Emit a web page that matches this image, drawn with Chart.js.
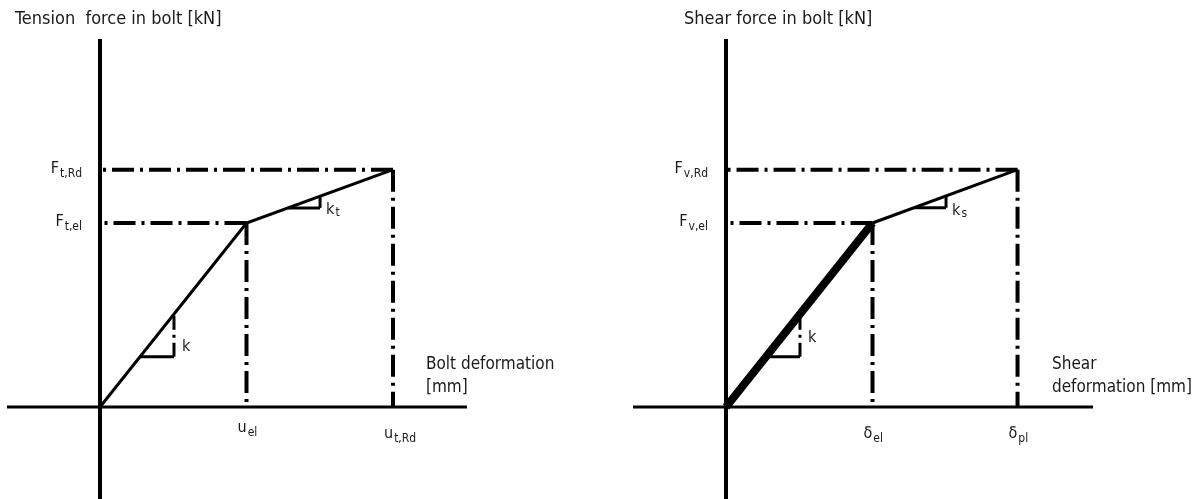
<!DOCTYPE html>
<html>
<head>
<meta charset="utf-8">
<script src="https://cdn.jsdelivr.net/npm/chart.js@4/dist/chart.umd.min.js"></script>
<style>
  html, body { margin: 0; padding: 0; background: #fff; }
  #wrap { position: relative; width: 1197px; height: 499px; overflow: hidden; }
  canvas { position: absolute; top: 0; }
  #tensionChart { left: 0; }
  #shearChart { left: 626px; }
</style>
</head>
<body>
<div id="wrap">
  <canvas id="tensionChart" width="626" height="499"></canvas>
  <canvas id="shearChart" width="571" height="499"></canvas>
</div>
<script>
// Bilinear bolt models: origin, elastic limit, design resistance
const tensionDeform = [0, 1.0, 2.0];
const tensionForce = [0, 1.0, 1.29];
const shearDeform = [0, 1.0, 1.99];
const shearForce = [0, 1.0, 1.29];

// Tick labels as [symbol, subscript]
const tensionForceTicks = [['F', 't,el'], ['F', 't,Rd']];
const tensionDeformTicks = [['u', 'el'], ['u', 't,Rd']];
const shearForceTicks = [['F', 'v,el'], ['F', 'v,Rd']];
const shearDeformTicks = [['δ', 'el'], ['δ', 'pl']];

// Slope marker labels
const tensionSlopes = [['k', ''], ['k', 't']];
const shearSlopes = [['k', ''], ['k', 's']];

// Axis extents in model units
const axisX = [-0.635, 2.505];
const axisY = [-0.5, 2.0];

// Slope triangles: [x start, x end] on elastic and hardening branch
const elasticMarker = [0.273, 0.505];
const hardeningMarker = [1.283, 1.502];

const FAMILY = "'DejaVu Sans Condensed', 'DejaVu Sans', sans-serif";
const TITLE_FONT = '18px ' + FAMILY;
const DEFORM_FONT = '17px ' + FAMILY;
const MAIN_FONT = '16px ' + FAMILY;
const SUB_FONT = '12px ' + FAMILY;
const INK = '#000';
const TEXT = '#1a1a1a';
const DASH_DOT = [22, 6, 3, 6];

// force on the bilinear curve at deformation d
function forceAt(deform, force, d) {
    for (let i = 1; i < deform.length; i++) {
        if (d <= deform[i]) {
            const t = (d - deform[i - 1]) / (deform[i] - deform[i - 1]);
            return force[i - 1] + t * (force[i] - force[i - 1]);
        }
    }
    return force[force.length - 1];
}

function seg(points, width, dash) {
    return {
        data: points.map(p => ({x: p[0], y: p[1]})),
        borderColor: INK,
        borderWidth: width,
        borderDash: dash || [],
        borderCapStyle: 'butt',
        borderJoinStyle: 'miter',
        pointRadius: 0,
        tension: 0,
        fill: false
    };
}

function buildDatasets(deform, force, thickElastic) {
    const sets = [];
    // response curve on top
    if (thickElastic) {
        sets.push(seg([[deform[0], force[0]], [deform[1], force[1]]], 8));
        sets.push(seg([[deform[1], force[1]], [deform[2], force[2]]], 3));
    } else {
        sets.push(seg(deform.map((d, i) => [d, force[i]]), 3));
    }
    // slope triangles
    [elasticMarker, hardeningMarker].forEach(m => {
        const yStart = forceAt(deform, force, m[0]);
        const yEnd = forceAt(deform, force, m[1]);
        sets.push(seg([[m[0], yStart], [m[1], yStart]], 3));
        sets.push(seg([[m[1], yStart], [m[1], yEnd]], 3, [14, 5, 3, 5]));
    });
    // axes
    sets.push(seg([[axisX[0], 0], [axisX[1], 0]], 3));
    sets.push(seg([[0, axisY[0]], [0, axisY[1]]], 4));
    // dash-dot guides from the limit points
    for (let i = 1; i < deform.length; i++) {
        sets.push(seg([[deform[i], force[i]], [0, force[i]]], 4, DASH_DOT));
        sets.push(seg([[deform[i], force[i]], [deform[i], 0]], 4, DASH_DOT));
    }
    return sets;
}

function drawSub(ctx, label, x, y, align, subDy) {
    ctx.font = MAIN_FONT;
    const wMain = ctx.measureText(label[0]).width;
    ctx.font = SUB_FONT;
    const wSub = ctx.measureText(label[1]).width;
    let left = x;
    if (align === 'right') left = x - wMain - wSub - 1;
    ctx.textAlign = 'left';
    ctx.font = MAIN_FONT;
    ctx.fillText(label[0], left, y);
    ctx.font = SUB_FONT;
    ctx.fillText(label[1], left + wMain + 1, y + subDy);
}

const boltLabels = {
    id: 'boltLabels',
    afterDatasetsDraw(chart, args, opts) {
        const {ctx} = chart;
        const sx = chart.scales.x, sy = chart.scales.y;
        const x0 = sx.getPixelForValue(0), y0 = sy.getPixelForValue(0);
        ctx.save();
        ctx.fillStyle = TEXT;
        ctx.textBaseline = 'alphabetic';

        // axis titles
        ctx.font = TITLE_FONT;
        ctx.textAlign = 'left';
        ctx.fillText(opts.forceTitle, x0 + opts.forceTitleDx, sy.getPixelForValue(axisY[1]) - 15);
        const xEnd = sx.getPixelForValue(axisX[1]);
        ctx.font = DEFORM_FONT;
        ctx.fillText(opts.deformTitle[0], xEnd - 41, y0 - 38);
        ctx.fillText(opts.deformTitle[1], xEnd - 41, y0 - 15);

        // force ticks
        opts.forceTicks.forEach((t, i) => {
            drawSub(ctx, t, x0 - 18, sy.getPixelForValue(opts.force[i + 1]) + 3, 'right', 4);
        });
        // deformation ticks
        opts.deformTicks.forEach((t, i) => {
            drawSub(ctx, t, sx.getPixelForValue(opts.deform[i + 1]) - 9, y0 + opts.deformTickDy[i], 'left', 4);
        });

        // slope labels
        const markers = [elasticMarker, hardeningMarker];
        opts.slopes.forEach((s, i) => {
            const m = markers[i];
            const px = sx.getPixelForValue(m[1]);
            const py = sy.getPixelForValue(forceAt(opts.deform, opts.force, m[0]));
            drawSub(ctx, s, px + opts.slopeDx[i], py + opts.slopeDy[i], 'left', 2);
        });
        ctx.restore();
    }
};

function makeChart(id, deform, force, thick, labelOpts, xMax) {
    return new Chart(document.getElementById(id), {
        type: 'scatter',
        data: {datasets: buildDatasets(deform, force, thick)},
        options: {
            responsive: false,
            animation: false,
            devicePixelRatio: 1,
            showLine: true,
            layout: {padding: 0},
            scales: {
                x: {type: 'linear', display: false, min: -0.6826, max: xMax},
                y: {type: 'linear', display: false, min: -0.5, max: 2.212}
            },
            plugins: {
                legend: {display: false},
                tooltip: {enabled: false},
                boltLabels: Object.assign({deform: deform, force: force}, labelOpts)
            }
        },
        plugins: [boltLabels]
    });
}

makeChart('tensionChart', tensionDeform, tensionForce, false, {
    forceTitle: 'Tension  force in bolt [kN]',
    forceTitleDx: -85,
    deformTitle: ['Bolt deformation', '[mm]'],
    forceTicks: tensionForceTicks,
    deformTicks: tensionDeformTicks,
    deformTickDy: [25, 31],
    slopes: tensionSlopes,
    slopeDx: [8, 6],
    slopeDy: [-6, 6]
}, 3.5904);

makeChart('shearChart', shearDeform, shearForce, true, {
    forceTitle: 'Shear force in bolt [kN]',
    forceTitleDx: -42,
    deformTitle: ['Shear', 'deformation [mm]'],
    forceTicks: shearForceTicks,
    deformTicks: shearDeformTicks,
    deformTickDy: [31, 31],
    slopes: shearSlopes,
    slopeDx: [8, 6],
    slopeDy: [-15, 7]
}, 3.215);
</script>
</body>
</html>
